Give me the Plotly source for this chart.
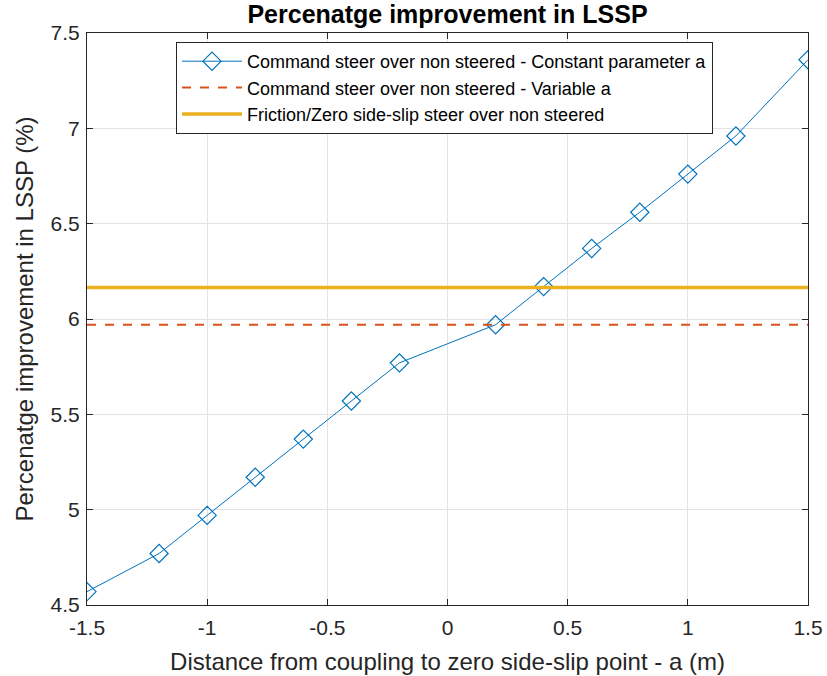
import plotly.graph_objects as go

a_vals = [-1.5, -1.2, -1.0, -0.8, -0.6, -0.4, -0.2, 0.2, 0.4, 0.6, 0.8, 1.0, 1.2, 1.5]
const_a = [4.57, 4.77, 4.97, 5.17, 5.37, 5.57, 5.77, 5.97, 6.17, 6.37, 6.56, 6.76, 6.96, 7.36]
variable_a = 5.97
friction_zero = 6.165
x_range = [-1.5, 1.5]
y_range = [4.5, 7.5]
x_ticks = [-1.5, -1, -0.5, 0, 0.5, 1, 1.5]
x_ticklabels = ["-1.5", "-1", "-0.5", "0", "0.5", "1", "1.5"]
y_ticks = [4.5, 5, 5.5, 6, 6.5, 7, 7.5]
y_ticklabels = ["4.5", "5", "5.5", "6", "6.5", "7", "7.5"]

FONT = "Liberation Sans, Arial"

fig = go.Figure()
fig.add_trace(go.Scatter(
    x=a_vals, y=const_a, mode="lines+markers",
    name="Command steer over non steered - Constant parameter a",
    line=dict(color="#0072BD", width=1),
    marker=dict(symbol="diamond-open", size=14, color="#0072BD", line=dict(width=1.2)),
))
fig.add_trace(go.Scatter(
    x=x_range, y=[variable_a, variable_a], mode="lines",
    name="Command steer over non steered - Variable a",
    line=dict(color="#D95319", width=2, dash="dash"),
))
fig.add_trace(go.Scatter(
    x=x_range, y=[friction_zero, friction_zero], mode="lines",
    name="Friction/Zero side-slip steer over non steered",
    line=dict(color="#EDB120", width=3.5),
))

axis_common = dict(
    showgrid=True, gridcolor="#e3e3e3", gridwidth=1,
    showline=True, linecolor="#262626", linewidth=1, mirror="ticks",
    ticks="inside", ticklen=6, tickcolor="#262626",
    tickfont=dict(family=FONT, size=21, color="#262626"),
    zeroline=False, automargin=False,
)

fig.update_layout(
    width=827, height=676,
    margin=dict(l=87, r=19, t=33, b=71),
    paper_bgcolor="white", plot_bgcolor="white",
    title=dict(text="<b>Percenatge improvement in LSSP</b>", x=(87 + 808) / 2 / 827, xanchor="center",
               y=1 - 14 / 676, yanchor="middle",
               font=dict(family=FONT, size=25, color="black")),
    xaxis=dict(range=x_range, tickvals=x_ticks, ticktext=x_ticklabels, ticklabelstandoff=4,
               title=dict(text="Distance from coupling to zero side-slip point - a (m)",
                          font=dict(family=FONT, size=24, color="#262626"), standoff=14),
               **axis_common),
    yaxis=dict(range=y_range, tickvals=y_ticks, ticktext=y_ticklabels, ticklabelstandoff=2,
               title=dict(text="Percenatge improvement in LSSP (%)",
                          font=dict(family=FONT, size=24, color="#262626"), standoff=10),
               **axis_common),
    legend=dict(x=(176 - 87) / 721, y=1 - 9 / 572, xanchor="left", yanchor="top",
                bgcolor="white", bordercolor="#262626", borderwidth=1,
                font=dict(family=FONT, size=18, color="black"),
                tracegroupgap=0, itemwidth=60),
    showlegend=True,
)

fig.write_html("out.html")
